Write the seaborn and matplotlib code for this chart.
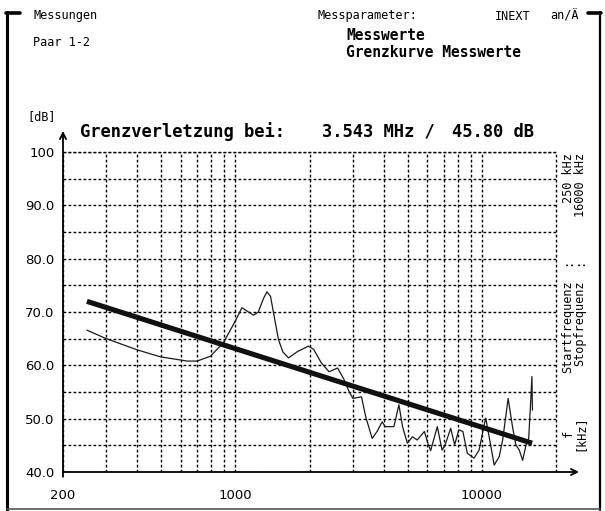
import matplotlib
matplotlib.use("Agg")
import matplotlib.pyplot as plt
import seaborn as sns
import pandas as pd
from matplotlib.lines import Line2D

# Messwerte (frequency in kHz, level in dB)
freq_mess = [250, 296, 400, 496, 638, 700, 792, 894, 1000, 1064, 1185, 1240, 1300,
             1344, 1390, 1497, 1560, 1644, 1790, 1980, 2080, 2230, 2400, 2600, 2750,
             2900, 3000, 3250, 3380, 3590, 3760, 3940, 4060, 4400, 4610, 4770, 4990,
             5230, 5470, 5850, 6040, 6200, 6600, 6900, 7100, 7480, 7760, 8070, 8380,
             8740, 9300, 9750, 10220, 10380, 10710, 11230, 11770, 12150, 12790, 13320,
             13750, 14190, 14650, 15120, 15500, 15820, 15970, 16050]
pegel_mess = [66.6, 65.1, 62.9, 61.6, 60.8, 60.8, 61.7, 64.2, 68.3, 70.8, 69.4, 70.0, 72.5,
              73.8, 72.9, 64.8, 62.5, 61.4, 62.6, 63.6, 63.0, 60.5, 58.8, 59.5, 57.5,
              55.0, 53.8, 54.1, 50.4, 46.3, 47.6, 49.4, 48.5, 48.5, 52.6, 48.5, 45.4,
              46.6, 46.0, 47.6, 45.4, 44.0, 48.5, 44.1, 45.1, 48.2, 45.1, 47.9, 47.6,
              43.5, 42.6, 44.1, 48.8, 50.1, 46.6, 41.3, 42.9, 46.0, 53.8, 48.5,
              45.1, 44.1, 42.2, 45.1, 46.3, 54.1, 57.9, 51.6]

# Grenzkurve
freq_grenz = [250, 16000]
pegel_grenz = [72.0, 45.4]

y_ticks = [40, 50, 60, 70, 80, 90, 100]
y_labels = ["40.0", "50.0", "60.0", "70.0", "80.0", "90.0", "100"]
y_minor = [45, 55, 65, 75, 85, 95]
x_ticks = [200, 1000, 10000]
x_labels = ["200", "1000", "10000"]
x_minor = [300, 400, 500, 600, 700, 800, 900,
           2000, 3000, 4000, 5000, 6000, 7000, 8000, 9000]

sns.set_style("white")
plt.rcParams["font.family"] = ["DejaVu Sans"]

W, H = 605, 511
fig = plt.figure(figsize=(W / 100, H / 100), dpi=100)
fig.patch.set_facecolor("white")


def px(x, y):
    return x / W, 1 - y / H


ax_l, ax_r, ax_t, ax_b = 63, 556, 152, 472
ax = fig.add_axes([ax_l / W, 1 - ax_b / H, (ax_r - ax_l) / W, (ax_b - ax_t) / H])

mess = pd.DataFrame({"f": freq_mess, "dB": pegel_mess})
grenz = pd.DataFrame({"f": freq_grenz, "dB": pegel_grenz})

sns.lineplot(data=mess, x="f", y="dB", ax=ax, color="#1a1a1a", lw=0.9,
             estimator=None, sort=False, zorder=4)
sns.lineplot(data=grenz, x="f", y="dB", ax=ax, color="#111111", lw=3.7,
             estimator=None, sort=False, zorder=5, solid_capstyle="butt")

ax.set_xscale("log")
ax.set_xlim(200, 20000)
ax.set_ylim(40, 100)
ax.set_xlabel("")
ax.set_ylabel("")

ax.set_xticks(x_ticks)
ax.set_xticklabels(x_labels)
ax.set_xticks(x_minor, minor=True)
ax.xaxis.set_minor_formatter(plt.NullFormatter())
ax.set_yticks(y_ticks)
ax.set_yticklabels(y_labels)
ax.set_yticks(y_minor, minor=True)

dots = (0, (2.0, 1.6))
ax.grid(True, which="both", axis="both", color="black", lw=1.0, linestyle=dots)
ax.set_axisbelow(True)

# dotted upper and right limits of the plotting area
ax.axhline(100, color="black", lw=1.0, linestyle=dots, clip_on=False, zorder=1)
ax.axvline(20000, color="black", lw=1.0, linestyle=dots, clip_on=False, zorder=1)

for s in ax.spines.values():
    s.set_visible(False)

ax.tick_params(axis="y", which="major", direction="out", length=5, width=1.2,
               pad=1, labelsize=9.5, colors="black")
ax.tick_params(axis="x", which="major", direction="inout", length=9, width=1.2,
               pad=8, labelsize=9.5, colors="black")
ax.tick_params(which="minor", length=0)

# axes with arrow heads
ax.annotate("", xy=(0, (ax_b - 131) / (ax_b - ax_t)), xytext=(0, -0.015),
            xycoords="axes fraction",
            arrowprops=dict(arrowstyle="->", lw=1.3, color="black",
                            mutation_scale=11, shrinkA=0, shrinkB=0),
            annotation_clip=False)
ax.annotate("", xy=((579 - ax_l) / (ax_r - ax_l), 0), xytext=(0, 0),
            xycoords="axes fraction",
            arrowprops=dict(arrowstyle="->", lw=1.3, color="black",
                            mutation_scale=11, shrinkA=0, shrinkB=0),
            annotation_clip=False)

# outer frame
frame_kw = dict(color="black", transform=fig.transFigure)
fig.add_artist(Line2D(*zip(px(7, 12), px(7, 510)), lw=2.2, **frame_kw))
fig.add_artist(Line2D(*zip(px(6, 13), px(20, 13)), lw=2.6, **frame_kw))
fig.add_artist(Line2D(*zip(px(600, 12), px(600, 510)), lw=1.6, **frame_kw))
fig.add_artist(Line2D(*zip(px(588, 13), px(601, 13)), lw=2.6, **frame_kw))
fig.add_artist(Line2D(*zip(px(7, 509), px(600, 509)), lw=1.2, color="#555555",
                      transform=fig.transFigure))

mono = "DejaVu Sans Mono"
small = dict(family=mono, fontsize=8.6, color="black", va="center", ha="left")
head = dict(family=mono, fontsize=10.5, fontweight="bold", color="black",
            va="center", ha="left")
big = dict(family=mono, fontsize=12.3, fontweight="bold", color="black",
           va="center", ha="left")

fig.text(*px(33, 16), "Messungen", **small)
fig.text(*px(318, 16), "Messparameter:", **small)
fig.text(*px(495, 16), "INEXT", **small)
fig.text(*px(550, 16), "an/Ä", **small)
fig.text(*px(33, 42), "Paar 1-2", **small)
fig.text(*px(346, 35), "Messwerte", **head)
fig.text(*px(346, 52.5), "Grenzkurve Messwerte", **head)
fig.text(*px(27, 117), "[dB]", **small)

fig.text(*px(80, 132), "Grenzverletzung bei:", **big)
fig.text(*px(322, 132), "3.543 MHz /", **big)
fig.text(*px(452, 132), "45.80 dB", **big)

# rotated parameter block on the right
rot = dict(family=mono, fontsize=8.6, color="black", rotation=90,
           rotation_mode="anchor", va="center")
fig.text(*px(568, 153), "250 kHz", ha="right", **rot)
fig.text(*px(580, 153), "16000 kHz", ha="right", **rot)
fig.text(*px(568, 262), ":", ha="center", **rot)
fig.text(*px(580, 262), ":", ha="center", **rot)
fig.text(*px(568, 280), "Startfrequenz", ha="right", **rot)
fig.text(*px(580, 280), "Stopfrequenz", ha="right", **rot)
fig.text(*px(568, 433), "f", ha="center", **rot)
fig.text(*px(580, 433), "[kHz]", ha="center", **rot)

fig.savefig("out.png", dpi=100, facecolor="white")
